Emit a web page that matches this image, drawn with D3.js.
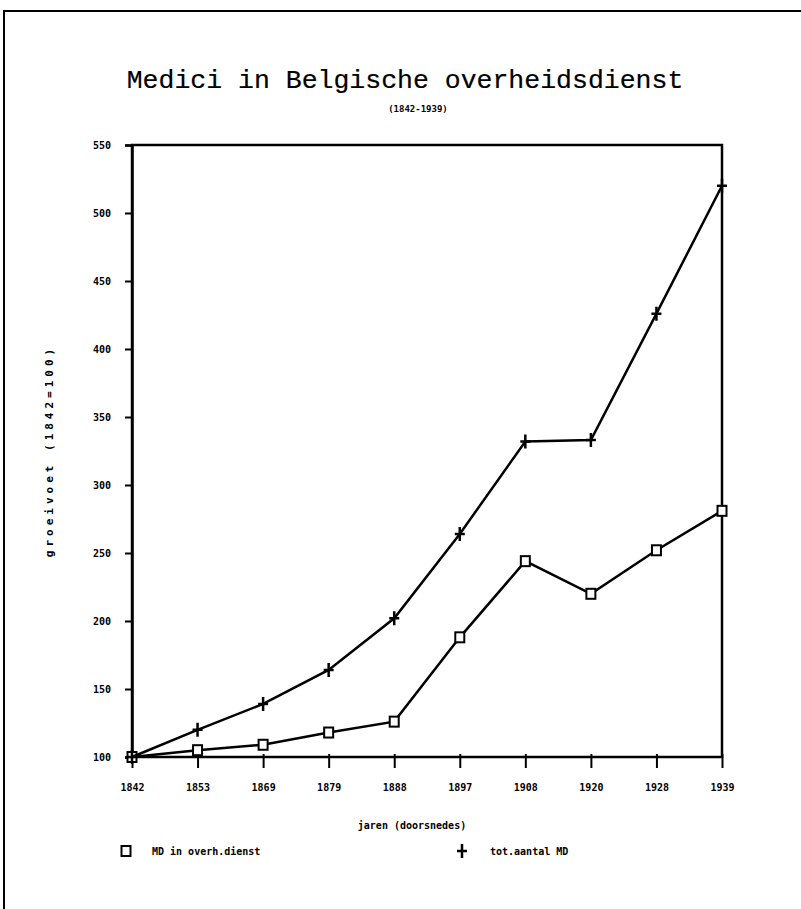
<!DOCTYPE html>
<html>
<head>
<meta charset="utf-8">
<script src="https://cdn.jsdelivr.net/npm/d3@7"></script>
<style>
  body { margin: 0; background: #fff; }
  text { fill: #000; }
</style>
</head>
<body>
<div class="chart"></div>
<script>
// Data (index 1842 = 100)
const years = ['1842', '1853', '1869', '1879', '1888', '1897', '1908', '1920', '1928', '1939']
const mdOverheid = [100, 105, 109, 118, 126, 188, 244, 220, 252, 281]
const totaalMD = [100, 120, 139, 164, 202, 264, 332, 333, 426, 520]
const yTicks = [100, 150, 200, 250, 300, 350, 400, 450, 500, 550]

const svgWidth = 801
      svgHeight = 909
const plot = { left: 132, right: 722, top: 145, bottom: 757 }

const svg = d3.select('.chart')
              .append('svg')
              .attr('width', svgWidth)
              .attr('height', svgHeight)

// Page frame (only top and left edge show)
svg.append('path')
   .attr('d', `M4,${svgHeight} L4,11 L${svgWidth},11`)
   .attr('fill', 'none')
   .attr('stroke', '#000')
   .attr('stroke-width', 2)

// Titles
svg.append('text')
   .attr('x', 405)
   .attr('y', 88)
   .attr('text-anchor', 'middle')
   .style('font-family', '"Liberation Mono", monospace')
   .style('font-size', '26.5px')
   .style('stroke', '#000')
   .style('stroke-width', 0.2)
   .text('Medici in Belgische overheidsdienst')

svg.append('text')
   .attr('x', 418)
   .attr('y', 112)
   .attr('text-anchor', 'middle')
   .style('font-family', '"DejaVu Sans Mono", monospace')
   .style('font-weight', 'bold')
   .style('font-size', '9px')
   .text('(1842-1939)')

// Scales
const xScale = d3.scalePoint()
                 .domain(years)
                 .range([plot.left, plot.right])
const yScale = d3.scaleLinear()
                 .domain([100, 550])
                 .range([plot.bottom, plot.top])

// Frame around plot area
svg.append('rect')
   .attr('x', plot.left)
   .attr('y', plot.top)
   .attr('width', plot.right - plot.left)
   .attr('height', plot.bottom - plot.top)
   .attr('fill', 'none')
   .attr('stroke', '#000')
   .attr('stroke-width', 2.5)

// Axes
const tickFont = g => g.selectAll('text')
                       .style('font-family', '"DejaVu Sans Mono", monospace')
                       .style('font-weight', 'bold')
                       .style('font-size', '10px')

svg.append('g')
   .attr('transform', `translate(${plot.left}, 0)`)
   .call(d3.axisLeft(yScale).tickValues(yTicks).tickSize(7).tickPadding(14))
   .call(g => g.select('.domain').attr('stroke-width', 2.5))
   .call(g => g.selectAll('line').attr('stroke-width', 2))
   .call(tickFont)

svg.append('g')
   .attr('transform', `translate(0, ${plot.bottom})`)
   .call(d3.axisBottom(xScale).tickSize(11).tickPadding(16))
   .call(g => g.select('.domain').remove())
   .call(g => g.selectAll('line').attr('y1', -3).attr('stroke-width', 2))
   .call(tickFont)

// Axis titles
svg.append('text')
   .attr('transform', `translate(53, ${(plot.top + plot.bottom) / 2}) rotate(-90)`)
   .attr('text-anchor', 'middle')
   .style('font-family', '"DejaVu Sans Mono", monospace')
   .style('font-weight', 'bold')
   .style('font-size', '11px')
   .style('letter-spacing', '4px')
   .text('groeivoet (1842=100)')

svg.append('text')
   .attr('x', 412)
   .attr('y', 829)
   .attr('text-anchor', 'middle')
   .style('font-family', '"DejaVu Sans Mono", monospace')
   .style('font-weight', 'bold')
   .style('font-size', '10px')
   .text('jaren (doorsnedes)')

// Lines
const line = d3.line()
               .x((d, i) => xScale(years[i]))
               .y(d => yScale(d))

const series = [
  { name: 'MD in overh.dienst', values: mdOverheid, marker: 'square' },
  { name: 'tot.aantal MD', values: totaalMD, marker: 'plus' }
]

series.forEach(s => {
  svg.append('path')
     .datum(s.values)
     .attr('d', line)
     .attr('fill', 'none')
     .attr('stroke', '#000')
     .attr('stroke-width', 2.5)

  const pts = svg.append('g')
                 .selectAll('g')
                 .data(s.values)
                 .enter()
                 .append('g')
                 .attr('transform', (d, i) => `translate(${xScale(years[i])}, ${yScale(d)})`)
  drawMarker(pts, s.marker)
})

function drawMarker(sel, type) {
  if (type === 'square') {
    sel.append('rect')
       .attr('x', -4.5).attr('y', -5)
       .attr('width', 9).attr('height', 10)
       .attr('fill', '#fff')
       .attr('stroke', '#000')
       .attr('stroke-width', 2)
  } else {
    sel.append('path')
       .attr('d', 'M-5,0 L5,0 M0,-7 L0,7')
       .attr('stroke', '#000')
       .attr('stroke-width', 2.5)
  }
}

// Legend
const legend = svg.append('g')
                  .selectAll('g')
                  .data(series)
                  .enter()
                  .append('g')
                  .attr('transform', (d, i) => `translate(${i === 0 ? 126 : 462}, 851)`)
legend.each(function(d) { drawMarker(d3.select(this), d.marker) })
legend.append('text')
      .attr('x', d => d.marker === 'square' ? 26 : 28)
      .attr('dy', '0.35em')
      .style('font-family', '"DejaVu Sans Mono", monospace')
      .style('font-weight', 'bold')
      .style('font-size', '10px')
      .text(d => d.name)
</script>
</body>
</html>
